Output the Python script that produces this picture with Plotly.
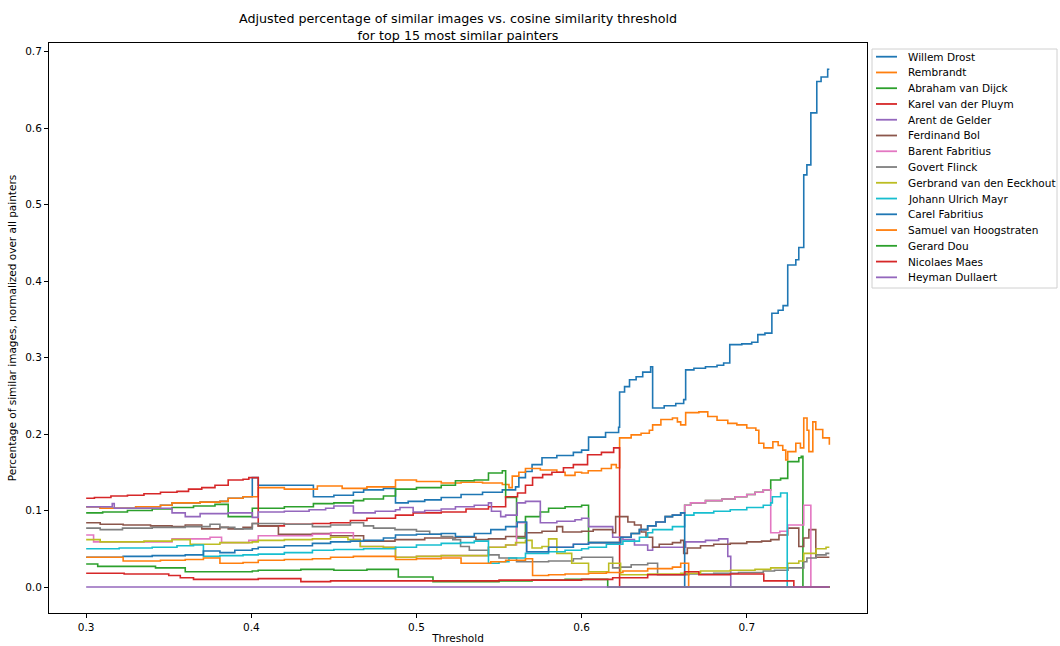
import plotly.graph_objects as go

# ---------------- data ----------------
painters = ["Willem Drost", "Rembrandt", "Abraham van Dijck", "Karel van der Pluym",
            "Arent de Gelder", "Ferdinand Bol", "Barent Fabritius", "Govert Flinck",
            "Gerbrand van den Eeckhout", "Johann Ulrich Mayr", "Carel Fabritius",
            "Samuel van Hoogstraten", "Gerard Dou", "Nicolaes Maes", "Heyman Dullaert"]

drost_x = [0.300, 0.3085, 0.330, 0.345, 0.352, 0.369, 0.381, 0.386, 0.395, 0.4006, 0.4042, 0.4376, 0.450, 0.4618,
           0.468, 0.480, 0.4873, 0.495, 0.505, 0.515, 0.527, 0.540, 0.552, 0.560, 0.562, 0.566, 0.570, 0.576, 0.585,
           0.595, 0.600, 0.6042, 0.6145, 0.6224, 0.623, 0.626, 0.629, 0.633, 0.637, 0.6418, 0.643, 0.650, 0.657,
           0.6618, 0.663, 0.668, 0.675, 0.682, 0.686, 0.6897, 0.697, 0.703, 0.7067, 0.711, 0.7152, 0.719, 0.722,
           0.7248, 0.7297, 0.7315, 0.7345, 0.7364, 0.7388, 0.7424, 0.745, 0.749, 0.750]
drost_y = [0.105, 0.103, 0.105, 0.107, 0.110, 0.111, 0.112, 0.116, 0.118, 0.143, 0.133, 0.118, 0.120, 0.124,
           0.127, 0.129, 0.110, 0.112, 0.114, 0.117, 0.121, 0.124, 0.127, 0.131, 0.143, 0.151, 0.160, 0.169, 0.172,
           0.176, 0.179, 0.196, 0.202, 0.209, 0.255, 0.262, 0.271, 0.275, 0.281, 0.288, 0.234, 0.237, 0.240,
           0.245, 0.284, 0.286, 0.288, 0.290, 0.293, 0.317, 0.318, 0.320, 0.330, 0.332, 0.358, 0.362, 0.368,
           0.421, 0.428, 0.444, 0.539, 0.552, 0.620, 0.661, 0.667, 0.677, 0.677]

rembrandt_x = [0.300, 0.3085, 0.330, 0.345, 0.352, 0.369, 0.381, 0.386, 0.395, 0.4042, 0.420, 0.440, 0.455, 0.470,
               0.4873, 0.500, 0.515, 0.527, 0.540, 0.552, 0.556, 0.558, 0.562, 0.566, 0.575, 0.585, 0.590, 0.596,
               0.600, 0.604, 0.612, 0.618, 0.621, 0.623, 0.630, 0.636, 0.641, 0.643, 0.648, 0.655, 0.658, 0.660,
               0.663, 0.671, 0.6764, 0.682, 0.6885, 0.694, 0.700, 0.7055, 0.7073, 0.7103, 0.7158, 0.719, 0.7218,
               0.7236, 0.7248, 0.7297, 0.7325, 0.7345, 0.7365, 0.7376, 0.740, 0.7418, 0.746, 0.750]
rembrandt_y = [0.105, 0.103, 0.105, 0.107, 0.110, 0.111, 0.112, 0.116, 0.118, 0.130, 0.128, 0.132, 0.129, 0.131,
               0.140, 0.138, 0.136, 0.137, 0.136, 0.134, 0.130, 0.145, 0.150, 0.155, 0.153, 0.150, 0.146, 0.150,
               0.149, 0.152, 0.155, 0.160, 0.156, 0.195, 0.199, 0.201, 0.205, 0.212, 0.219, 0.221, 0.216, 0.212,
               0.228, 0.229, 0.223, 0.218, 0.214, 0.212, 0.208, 0.205, 0.188, 0.182, 0.190, 0.185, 0.179,
               0.166, 0.177, 0.188, 0.182, 0.221, 0.205, 0.177, 0.216, 0.206, 0.195, 0.186]

vandijck_x = [0.300, 0.310, 0.325, 0.340, 0.352, 0.365, 0.378, 0.386, 0.4006, 0.420, 0.4376, 0.450, 0.4618, 0.468,
              0.480, 0.4873, 0.500, 0.515, 0.5236, 0.535, 0.5436, 0.552, 0.554, 0.5606, 0.566, 0.575, 0.580, 0.590,
              0.600, 0.6042, 0.6236, 0.630, 0.635, 0.640, 0.645, 0.6506, 0.655, 0.660, 0.6624, 0.666, 0.675, 0.685,
              0.693, 0.700, 0.705, 0.710, 0.7145, 0.7205, 0.7248, 0.7315, 0.733, 0.734, 0.750]
vandijck_y = [0.097, 0.098, 0.100, 0.102, 0.104, 0.106, 0.108, 0.092, 0.103, 0.105, 0.109, 0.110, 0.113, 0.115,
              0.119, 0.128, 0.130, 0.133, 0.139, 0.140, 0.149, 0.152, 0.117, 0.064, 0.092, 0.098, 0.103, 0.105,
              0.107, 0.058, 0.065, 0.070, 0.075, 0.080, 0.085, 0.092, 0.094, 0.097, 0.107, 0.110, 0.113, 0.115,
              0.118, 0.121, 0.124, 0.127, 0.140, 0.142, 0.164, 0.169, 0.171, 0.0, 0.0]

pluym_x = [0.300, 0.305, 0.315, 0.325, 0.335, 0.345, 0.355, 0.362, 0.370, 0.378, 0.386, 0.395, 0.3985, 0.4042,
           0.420, 0.437, 0.448, 0.460, 0.470, 0.4873, 0.498, 0.515, 0.530, 0.5436, 0.554, 0.5612, 0.566, 0.5703,
           0.5764, 0.582, 0.589, 0.595, 0.6036, 0.612, 0.6194, 0.623, 0.750]
pluym_y = [0.116, 0.117, 0.119, 0.120, 0.122, 0.124, 0.125, 0.128, 0.130, 0.133, 0.140, 0.141, 0.143, 0.080,
           0.082, 0.083, 0.084, 0.087, 0.090, 0.094, 0.097, 0.098, 0.102, 0.105, 0.118, 0.123, 0.133, 0.143,
           0.147, 0.150, 0.156, 0.160, 0.173, 0.176, 0.182, 0.0, 0.0]

gelder_x = [0.300, 0.3158, 0.317, 0.352, 0.360, 0.369, 0.386, 0.4006, 0.4042, 0.420, 0.435, 0.445, 0.450, 0.4618,
            0.475, 0.4873, 0.490, 0.498, 0.505, 0.515, 0.5236, 0.535, 0.5436, 0.5454, 0.551, 0.554, 0.561, 0.566,
            0.575, 0.585, 0.596, 0.600, 0.6042, 0.6188, 0.625, 0.632, 0.640, 0.643, 0.663, 0.675, 0.683, 0.6885,
            0.6903, 0.750]
gelder_y = [0.105, 0.109, 0.103, 0.097, 0.092, 0.096, 0.097, 0.091, 0.098, 0.099, 0.101, 0.103, 0.106, 0.097,
            0.099, 0.101, 0.104, 0.098, 0.100, 0.102, 0.105, 0.107, 0.110, 0.099, 0.092, 0.094, 0.110, 0.112,
            0.084, 0.086, 0.088, 0.090, 0.079, 0.065, 0.062, 0.055, 0.048, 0.052, 0.059, 0.061, 0.063, 0.040,
            0.0, 0.0]

bol_x = [0.300, 0.3085, 0.3224, 0.339, 0.352, 0.360, 0.370, 0.381, 0.386, 0.395, 0.4006, 0.4042, 0.4164, 0.437,
         0.448, 0.468, 0.487, 0.505, 0.5236, 0.536, 0.5436, 0.554, 0.566, 0.576, 0.585, 0.5885, 0.600, 0.607,
         0.6188, 0.6206, 0.628, 0.632, 0.636, 0.639, 0.643, 0.647, 0.655, 0.660, 0.6618, 0.664, 0.672, 0.680,
         0.690, 0.700, 0.709, 0.7145, 0.7195, 0.7248, 0.7315, 0.7345, 0.7376, 0.7418, 0.750]
bol_y = [0.084, 0.082, 0.081, 0.080, 0.079, 0.081, 0.076, 0.078, 0.076, 0.078, 0.083, 0.080, 0.069, 0.070,
         0.067, 0.060, 0.062, 0.064, 0.065, 0.062, 0.063, 0.066, 0.071, 0.073, 0.079, 0.072, 0.073, 0.075,
         0.071, 0.092, 0.085, 0.081, 0.072, 0.065, 0.052, 0.056, 0.058, 0.061, 0.044, 0.051, 0.054, 0.056,
         0.057, 0.059, 0.060, 0.062, 0.068, 0.077, 0.053, 0.064, 0.075, 0.039, 0.039]

barent_x = [0.300, 0.3045, 0.352, 0.375, 0.382, 0.3985, 0.4042, 0.437, 0.448, 0.4618, 0.466, 0.480, 0.4873,
            0.500, 0.515, 0.5436, 0.554, 0.5606, 0.5667, 0.580, 0.595, 0.6042, 0.6236, 0.630, 0.635, 0.640,
            0.645, 0.6506, 0.655, 0.660, 0.6624, 0.666, 0.675, 0.685, 0.693, 0.700, 0.705, 0.710, 0.7145,
            0.720, 0.7248, 0.7345, 0.7388, 0.750]
barent_y = [0.068, 0.059, 0.063, 0.065, 0.058, 0.061, 0.067, 0.069, 0.071, 0.062, 0.053, 0.052, 0.039,
            0.040, 0.041, 0.052, 0.055, 0.084, 0.046, 0.052, 0.056, 0.058, 0.065, 0.070, 0.075, 0.080,
            0.085, 0.092, 0.094, 0.097, 0.107, 0.110, 0.113, 0.115, 0.118, 0.121, 0.124, 0.127, 0.071,
            0.073, 0.081, 0.107, 0.0, 0.0]

flinck_x = [0.300, 0.3085, 0.322, 0.340, 0.360, 0.375, 0.381, 0.390, 0.4006, 0.420, 0.437, 0.448, 0.460, 0.468,
            0.474, 0.487, 0.500, 0.508, 0.515, 0.522, 0.5267, 0.532, 0.5436, 0.550, 0.5606, 0.580, 0.595, 0.600,
            0.6188, 0.623, 0.630, 0.640, 0.646, 0.665, 0.680, 0.695, 0.710, 0.7168, 0.725, 0.7345, 0.7364,
            0.742, 0.748, 0.750]
flinck_y = [0.077, 0.075, 0.077, 0.078, 0.079, 0.082, 0.078, 0.076, 0.083, 0.082, 0.079, 0.081, 0.084, 0.080,
            0.077, 0.075, 0.073, 0.069, 0.066, 0.062, 0.053, 0.048, 0.042, 0.038, 0.033, 0.034, 0.037, 0.039,
            0.025, 0.026, 0.029, 0.031, 0.016, 0.017, 0.018, 0.019, 0.021, 0.022, 0.025, 0.033, 0.038,
            0.042, 0.044, 0.044]

eeckhout_x = [0.300, 0.3085, 0.335, 0.352, 0.363, 0.381, 0.4006, 0.4042, 0.420, 0.437, 0.448, 0.4585, 0.466,
              0.480, 0.4873, 0.500, 0.515, 0.5436, 0.554, 0.560, 0.566, 0.570, 0.576, 0.580, 0.585, 0.594,
              0.6042, 0.6164, 0.6236, 0.640, 0.660, 0.672, 0.690, 0.705, 0.7145, 0.7248, 0.7315, 0.7345, 0.742,
              0.748, 0.750]
eeckhout_y = [0.062, 0.059, 0.060, 0.062, 0.056, 0.058, 0.059, 0.061, 0.062, 0.063, 0.065, 0.062, 0.053,
              0.052, 0.039, 0.040, 0.041, 0.052, 0.055, 0.058, 0.061, 0.051, 0.053, 0.063, 0.044, 0.031,
              0.020, 0.031, 0.016, 0.017, 0.018, 0.021, 0.022, 0.023, 0.025, 0.031, 0.034, 0.044, 0.050,
              0.052, 0.052]

mayr_x = [0.300, 0.320, 0.340, 0.355, 0.365, 0.371, 0.381, 0.395, 0.4042, 0.420, 0.437, 0.450, 0.468, 0.4873,
          0.500, 0.515, 0.5267, 0.535, 0.5436, 0.550, 0.556, 0.566, 0.580, 0.590, 0.600, 0.6042, 0.615, 0.625,
          0.635, 0.640, 0.643, 0.655, 0.6624, 0.668, 0.680, 0.690, 0.700, 0.710, 0.7145, 0.7155, 0.7205, 0.7245,
          0.750]
mayr_y = [0.050, 0.051, 0.052, 0.054, 0.055, 0.040, 0.041, 0.042, 0.043, 0.045, 0.048, 0.049, 0.050, 0.052,
          0.055, 0.057, 0.058, 0.060, 0.031, 0.033, 0.038, 0.044, 0.046, 0.048, 0.050, 0.052, 0.056, 0.060,
          0.065, 0.071, 0.075, 0.079, 0.094, 0.097, 0.099, 0.101, 0.104, 0.107, 0.110, 0.118, 0.123, 0.0,
          0.0]

carel_x = [0.300, 0.3224, 0.340, 0.360, 0.371, 0.381, 0.390, 0.4006, 0.4042, 0.420, 0.437, 0.448, 0.460, 0.468,
           0.480, 0.4873, 0.500, 0.515, 0.5236, 0.535, 0.545, 0.554, 0.561, 0.5667, 0.580, 0.595, 0.6042, 0.6236,
           0.630, 0.635, 0.640, 0.645, 0.6506, 0.655, 0.660, 0.6624, 0.750]
carel_y = [0.039, 0.040, 0.041, 0.042, 0.047, 0.045, 0.048, 0.050, 0.052, 0.054, 0.057, 0.059, 0.060, 0.061,
           0.064, 0.068, 0.069, 0.070, 0.066, 0.070, 0.075, 0.079, 0.085, 0.046, 0.052, 0.056, 0.058, 0.065,
           0.070, 0.075, 0.080, 0.085, 0.092, 0.094, 0.097, 0.0, 0.0]

hoogstraten_x = [0.300, 0.3224, 0.345, 0.360, 0.371, 0.381, 0.395, 0.4042, 0.420, 0.437, 0.448, 0.4618, 0.4873,
                 0.500, 0.515, 0.5236, 0.527, 0.545, 0.554, 0.566, 0.5703, 0.580, 0.590, 0.6042, 0.615, 0.625,
                 0.640, 0.655, 0.660, 0.6648, 0.750]
hoogstraten_y = [0.039, 0.034, 0.035, 0.036, 0.038, 0.031, 0.032, 0.035, 0.036, 0.037, 0.039, 0.040, 0.036,
                 0.037, 0.038, 0.038, 0.031, 0.033, 0.035, 0.037, 0.015, 0.016, 0.017, 0.018, 0.019, 0.021,
                 0.024, 0.026, 0.031, 0.0, 0.0]

dou_x = [0.300, 0.307, 0.342, 0.360, 0.381, 0.4006, 0.4042, 0.430, 0.450, 0.470, 0.489, 0.510, 0.550, 0.570,
         0.590, 0.6158, 0.750]
dou_y = [0.030, 0.027, 0.025, 0.020, 0.020, 0.021, 0.022, 0.023, 0.022, 0.023, 0.013, 0.007, 0.008, 0.009,
         0.010, 0.0, 0.0]

maes_x = [0.300, 0.323, 0.350, 0.357, 0.365, 0.4042, 0.430, 0.448, 0.500, 0.550, 0.600, 0.6188, 0.640, 0.6624,
          0.671, 0.690, 0.7103, 0.7285, 0.750]
maes_y = [0.018, 0.017, 0.015, 0.012, 0.010, 0.011, 0.007, 0.008, 0.008, 0.009, 0.010, 0.012, 0.016, 0.020,
          0.016, 0.017, 0.008, 0.0, 0.0]

dullaert_x = [0.300, 0.750]
dullaert_y = [0.0, 0.0]

x_ticks = [0.3, 0.4, 0.5, 0.6, 0.7]
y_ticks = [0.0, 0.1, 0.2, 0.3, 0.4, 0.5, 0.6, 0.7]

series = [
    (drost_x, drost_y), (rembrandt_x, rembrandt_y), (vandijck_x, vandijck_y), (pluym_x, pluym_y),
    (gelder_x, gelder_y), (bol_x, bol_y), (barent_x, barent_y), (flinck_x, flinck_y),
    (eeckhout_x, eeckhout_y), (mayr_x, mayr_y), (carel_x, carel_y), (hoogstraten_x, hoogstraten_y),
    (dou_x, dou_y), (maes_x, maes_y), (dullaert_x, dullaert_y),
]

tab10 = ["#1f77b4", "#ff7f0e", "#2ca02c", "#d62728", "#9467bd",
         "#8c564b", "#e377c2", "#7f7f7f", "#bcbd22", "#17becf"]

FONT = "DejaVu Sans"
W, H = 1060, 646
PL, PR, PT, PB = 49, 867, 43, 613          # plot-area box in pixels


def px_to_paper(px, py):
    return (px - PL) / (PR - PL), (PB - py) / (PB - PT)


fig = go.Figure()
for i, (name, (xs, ys)) in enumerate(zip(painters, series)):
    assert len(xs) == len(ys), name
    fig.add_trace(go.Scatter(
        x=xs, y=ys, name=name, mode="lines", showlegend=False,
        line=dict(color=tab10[i % 10], width=1.6, shape="hv"),
    ))

# ---- legend box (matplotlib-style, compact rows) ----
shapes, annotations = [], []
bx0, by0 = px_to_paper(872, 49)
bx1, by1 = px_to_paper(1057, 288)
shapes.append(dict(type="rect", xref="paper", yref="paper", x0=bx0, y0=by1, x1=bx1, y1=by0,
                   line=dict(color="#d0d0d0", width=1), fillcolor="white", layer="above"))
row0, row_h = 56.7, 15.76
for i, name in enumerate(painters):
    yy = row0 + i * row_h
    lx0, ly = px_to_paper(876, yy)
    lx1, _ = px_to_paper(897, yy)
    tx, _ = px_to_paper(906, yy)
    shapes.append(dict(type="line", xref="paper", yref="paper", x0=lx0, x1=lx1, y0=ly, y1=ly,
                       line=dict(color=tab10[i % 10], width=1.8), layer="above"))
    annotations.append(dict(text=name, xref="paper", yref="paper", x=tx, y=ly,
                            xanchor="left", yanchor="middle", showarrow=False,
                            font=dict(family=FONT, size=10.5, color="black")))

axis_common = dict(
    showline=True, linecolor="black", linewidth=1, mirror=True,
    ticks="outside", ticklen=4, tickcolor="black", tickwidth=1,
    showgrid=False, zeroline=False, tickformat=".1f",
    tickfont=dict(family=FONT, size=10.5, color="black"),
)

fig.update_layout(
    width=W, height=H,
    paper_bgcolor="white", plot_bgcolor="white",
    margin=dict(l=PL, r=W - PR, t=PT, b=H - PB, autoexpand=False),
    title=dict(
        text="Adjusted percentage of similar images vs. cosine similarity threshold<br>for top 15 most similar painters",
        x=(PL + PR) / 2 / W, xanchor="center", y=1 - 23 / H, yanchor="top",
        font=dict(family=FONT, size=12.7, color="black"),
    ),
    xaxis=dict(range=[0.2775, 0.7728], tickvals=x_ticks,
               title=dict(text="Threshold", font=dict(family=FONT, size=10.5, color="black"), standoff=3),
               **axis_common),
    yaxis=dict(range=[-0.034, 0.7114], tickvals=y_ticks,
               title=dict(text="Percentage of similar images, normalized over all painters",
                          font=dict(family=FONT, size=10.5, color="black"), standoff=6),
               **axis_common),
    shapes=shapes,
    annotations=annotations,
    showlegend=False,
)

fig.write_html("out.html", config={"displayModeBar": False},
               post_script="document.body.style.margin='0px';document.body.style.overflow='hidden';")
